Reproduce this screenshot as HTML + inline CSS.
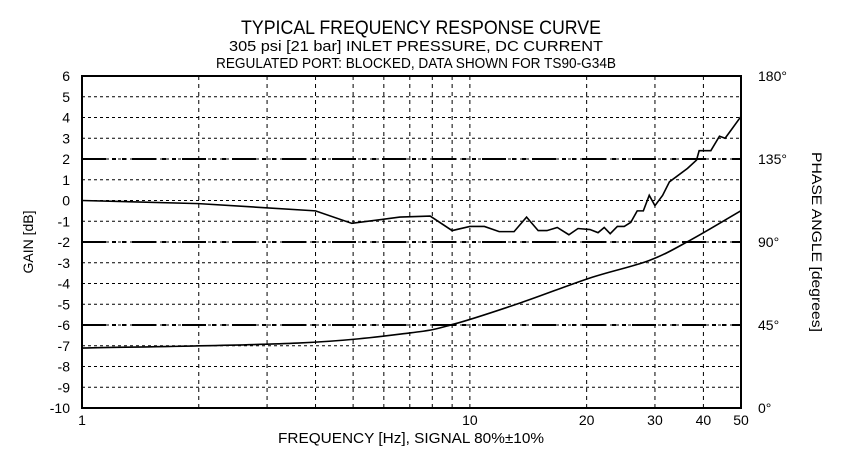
<!DOCTYPE html>
<html><head><meta charset="utf-8"><style>
html,body{margin:0;padding:0;background:#fff}
svg{display:block;font-family:"Liberation Sans",sans-serif}
text{fill:#000}
</style></head><body>
<svg id="chart" width="845" height="471" viewBox="0 0 845 471">
<text x="421" y="34" text-anchor="middle" font-size="19" textLength="360" lengthAdjust="spacingAndGlyphs">TYPICAL FREQUENCY RESPONSE CURVE</text>
<text x="416" y="51" text-anchor="middle" font-size="15" textLength="374" lengthAdjust="spacingAndGlyphs">305 psi [21 bar] INLET PRESSURE, DC CURRENT</text>
<text x="416" y="68" text-anchor="middle" font-size="15" textLength="400" lengthAdjust="spacingAndGlyphs">REGULATED PORT: BLOCKED, DATA SHOWN FOR TS90-G34B</text>
<g id="grid"></g>
<g id="marks"></g>
<text x="411" y="443" text-anchor="middle" font-size="15" textLength="266" lengthAdjust="spacingAndGlyphs">FREQUENCY [Hz], SIGNAL 80%±10%</text>
<text transform="translate(33,242) rotate(-90)" text-anchor="middle" font-size="14">GAIN [dB]</text>
<text transform="translate(812,242) rotate(90)" text-anchor="middle" font-size="14" textLength="180" lengthAdjust="spacingAndGlyphs">PHASE ANGLE [degrees]</text>
</svg>
<script>
const gainFreq=[1,2,4,4.96,6.6,7.9,9,10,10.9,11.9,13,14,15,15.8,16.8,18,19,20.4,21.4,22.2,23,24,25,26,27,28,29,30,31.4,32.7,36.4,38.4,39,41.8,44,45.5,47.6,50];
const gainDb=[0,-0.15,-0.5,-1.1,-0.8,-0.75,-1.45,-1.25,-1.25,-1.5,-1.5,-0.8,-1.45,-1.45,-1.3,-1.65,-1.35,-1.4,-1.55,-1.3,-1.6,-1.25,-1.25,-1.05,-0.5,-0.5,0.25,-0.25,0.25,0.9,1.55,1.95,2.4,2.4,3.1,3.0,3.5,4.05];
const phaseFreq=[1,3.6,7,9.1,13.5,20.4,29,37,50];
const phaseDeg=[32.5,35.2,40.7,45.5,57,70.5,80,91,107];
const yTicks=[6,5,4,3,2,1,0,-1,-2,-3,-4,-5,-6,-7,-8,-9,-10];
const phaseTicks=[180,135,90,45,0];
const xGridFreqs=[2,3,4,5,6,7,8,9,10,20,30,40];
const xLabelFreqs=[1,10,20,30,40,50];
const refLines=[2,-2,-6];
const L=82,R=741,T=76,B=408;
const xs=f=>L+(R-L)*Math.log10(f)/Math.log10(50);
const ys=d=>T+(6-d)*(B-T)/16;
const yp=a=>B-a*(B-T)/180;
const NS="http://www.w3.org/2000/svg";
const grid=document.getElementById('grid'),marks=document.getElementById('marks');
function mk(tag,attrs,parent){const e=document.createElementNS(NS,tag);for(const k in attrs)e.setAttribute(k,attrs[k]);parent.appendChild(e);return e;}
yTicks.forEach(v=>{
 if(v!==6&&v!==-10){const l=mk('line',{x1:L,x2:R,y1:ys(v),y2:ys(v),stroke:'#000','stroke-width':1,'stroke-dasharray':'3,3'},grid);
 
 }
 const t=mk('text',{x:70,y:ys(v)+5,'text-anchor':'end','font-size':14},grid);t.textContent=v;
 
 
});
xGridFreqs.forEach(f=>{const l=mk('line',{x1:xs(f),x2:xs(f),y1:T,y2:B,stroke:'#000','stroke-width':1,'stroke-dasharray':'4,4'},grid);
 
 });
xLabelFreqs.forEach(f=>{const t=mk('text',{x:xs(f),y:425,'text-anchor':'middle','font-size':14},grid);t.textContent=f;
 
 });
phaseTicks.forEach(a=>{const t=mk('text',{x:758,y:yp(a)+5,'font-size':14},grid);t.textContent=a+'°';
 
 });
refLines.forEach(v=>{const l=mk('line',{x1:L,x2:R,y1:ys(v),y2:ys(v),stroke:'#000','stroke-width':2,'stroke-dasharray':'24,6,4,6,4,6'},grid);
 
 });
{const r=mk('rect',{x:L,y:T,width:R-L,height:B-T,fill:'none',stroke:'#000','stroke-width':2},grid);
 
 }
const gp=mk('polyline',{points:gainFreq.map((f,i)=>xs(f)+','+ys(gainDb[i])).join(' '),fill:'none',stroke:'#000','stroke-width':1.6},marks);


const P=phaseFreq.map((f,i)=>[xs(f),yp(phaseDeg[i])]);
let d='M'+P[0][0]+','+P[0][1];
for(let i=0;i<P.length-1;i++){
 const p0=P[Math.max(0,i-1)],p1=P[i],p2=P[i+1],p3=P[Math.min(P.length-1,i+2)];
 const c1=[p1[0]+(p2[0]-p0[0])/6,p1[1]+(p2[1]-p0[1])/6],c2=[p2[0]-(p3[0]-p1[0])/6,p2[1]-(p3[1]-p1[1])/6];
 d+=' C'+c1[0]+','+c1[1]+' '+c2[0]+','+c2[1]+' '+p2[0]+','+p2[1];
}
const pp=mk('path',{d:d,fill:'none',stroke:'#000','stroke-width':1.6},marks);


</script>
</body></html>
